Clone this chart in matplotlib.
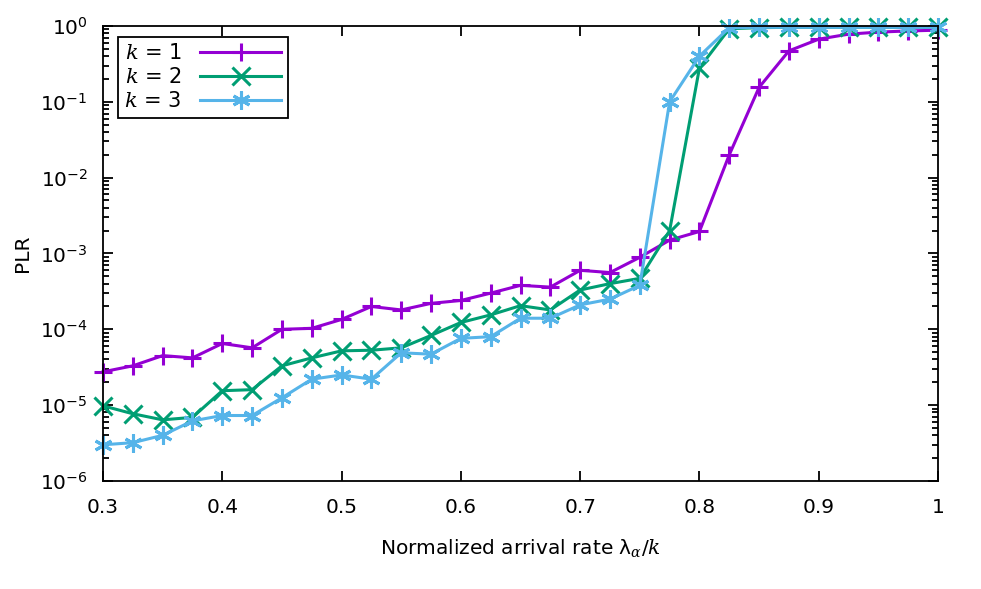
import numpy as np
import matplotlib
matplotlib.use('Agg')
import matplotlib.pyplot as plt

# Data
rate = [0.3, 0.325, 0.35, 0.375, 0.4, 0.425, 0.45, 0.475, 0.5, 0.525, 0.55, 0.575,
        0.6, 0.625, 0.65, 0.675, 0.7, 0.725, 0.75, 0.775, 0.8, 0.825, 0.85, 0.875,
        0.9, 0.925, 0.95, 0.975, 1.0]

plr_k1 = [2.75e-5, 3.3e-5, 4.5e-5, 4.2e-5, 6.5e-5, 5.7e-5, 1.0e-4, 1.03e-4, 1.35e-4,
          2.0e-4, 1.8e-4, 2.2e-4, 2.4e-4, 3.0e-4, 3.8e-4, 3.6e-4, 6.0e-4, 5.6e-4,
          8.9e-4, 1.5e-3, 1.95e-3, 2.0e-2, 1.55e-1, 0.47, 0.67, 0.78, 0.83, 0.86, 0.88]

plr_k2 = [9.8e-6, 7.7e-6, 6.4e-6, 6.9e-6, 1.55e-5, 1.6e-5, 3.3e-5, 4.2e-5, 5.2e-5,
          5.3e-5, 5.7e-5, 8.3e-5, 1.23e-4, 1.55e-4, 2.05e-4, 1.8e-4, 3.3e-4, 4.0e-4,
          4.7e-4, 2.0e-3, 0.28, 0.92, 0.95, 0.96, 0.96, 0.96, 0.96, 0.96, 0.96]

plr_k3 = [3.0e-6, 3.2e-6, 4.0e-6, 6.2e-6, 7.3e-6, 7.3e-6, 1.25e-5, 2.2e-5, 2.5e-5,
          2.2e-5, 4.9e-5, 4.7e-5, 7.6e-5, 8.0e-5, 1.4e-4, 1.4e-4, 2.1e-4, 2.5e-4,
          3.8e-4, 0.1, 0.4, 0.95, 0.96, 0.96, 0.96, 0.96, 0.96, 0.96, 0.96]

series = [(plr_k1, '#9400d3', '+', r'$k$ = 1'),
          (plr_k2, '#009e73', 'x', r'$k$ = 2'),
          (plr_k3, '#56b4e9', (6, 2, 0), r'$k$ = 3')]

plt.rcParams['mathtext.fontset'] = 'dejavuserif'
plt.rcParams['font.size'] = 14.5

fig = plt.figure(figsize=(9.81, 5.89), dpi=100)
ax = fig.add_axes([0.105, 0.1834, 0.8512, 0.7725])

for vals, col, mk, lab in series:
    ax.plot(rate, vals, color=col, marker=mk, markersize=13, markeredgewidth=2.2,
            linewidth=2.2, label=lab, clip_on=False)

ax.set_yscale('log')
ax.set_ylim(1e-6, 1)
ax.set_xlim(0.3, 1.0)
ax.set_xticks([0.3, 0.4, 0.5, 0.6, 0.7, 0.8, 0.9, 1.0])
ax.set_xticklabels(['0.3', '0.4', '0.5', '0.6', '0.7', '0.8', '0.9', '1'])
ax.set_yticks([10.0 ** e for e in range(-6, 1)])
ax.set_yticklabels([r'$\mathregular{10^{%d}}$' % e for e in range(-6, 1)])
ax.yaxis.set_minor_locator(matplotlib.ticker.LogLocator(base=10, subs=np.arange(2, 10), numticks=20))
ax.yaxis.set_minor_formatter(matplotlib.ticker.NullFormatter())

ax.tick_params(which='both', direction='in', top=True, right=True, width=1.3)
ax.tick_params(which='major', length=7)
ax.tick_params(which='minor', length=4)
ax.tick_params(axis='x', which='major', pad=12)
ax.tick_params(axis='y', which='major', pad=11)
for s in ax.spines.values():
    s.set_linewidth(1.3)

ax.set_xlabel(r'Normalized arrival rate λ$_{\alpha}$/$k$', labelpad=15)
ax.set_ylabel('PLR', labelpad=6)

# gnuplot-style key: text first, sample line after it
leg = ax.legend(loc='upper left', bbox_to_anchor=(0.018, 0.976), borderaxespad=0,
                markerfirst=False, fancybox=False, framealpha=1, edgecolor='black',
                handlelength=3.9, borderpad=0.3, labelspacing=0.2, handletextpad=0.9,
                fontsize=15)
leg.get_frame().set_linewidth(1.3)

fig.savefig('out.png', dpi=100)
